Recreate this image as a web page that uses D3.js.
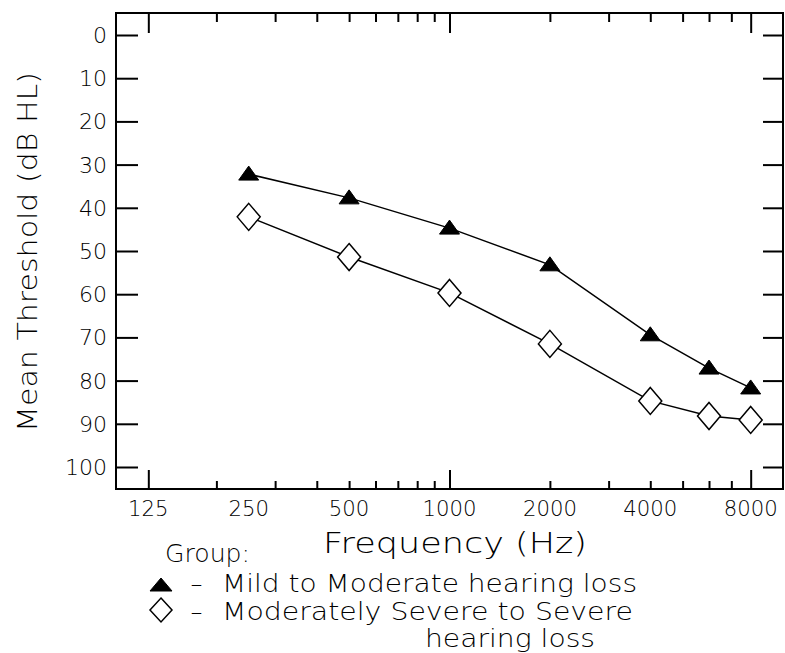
<!DOCTYPE html>
<html>
<head>
<meta charset="utf-8">
<script src="https://cdn.jsdelivr.net/npm/d3@7"></script>
<style>
  html, body { margin: 0; padding: 0; background: #fff; }
  svg { display: block; }
  text { font-family: "DejaVu Sans", "Liberation Sans", sans-serif; font-weight: 200; fill: #000; }
</style>
</head>
<body>
<script>
// ---- data ----
const frequencies = [250, 500, 1000, 2000, 4000, 6000, 8000];
const mildModerate = [32.2, 37.7, 44.7, 53.2, 69.4, 77.1, 81.7];
const modSevereSevere = [42.1, 51.4, 59.7, 71.5, 84.7, 88.2, 89.1];
const xTickLabels = [125, 250, 500, 1000, 2000, 4000, 8000];
const xMajorTicks = [125, 1000, 8000];
const xMinorTicks = [200, 300, 400, 500, 600, 700, 800, 900, 2000, 3000, 4000, 5000, 6000, 7000];
const yTickValues = [0, 10, 20, 30, 40, 50, 60, 70, 80, 90, 100];
const legendLabels = ["Mild to Moderate hearing loss", "Moderately Severe to Severe", "hearing loss"];

const W = 785, H = 653;
const pL = 116, pR = 783, pT = 13, pB = 489;

const svg = d3.select("body").append("svg").attr("width", W).attr("height", H);

const x = d3.scaleLog().domain([100, 10000]).range([pL, pR]);
const y = d3.scaleLinear().domain([0, 100]).range([35, 467]);

// frame
svg.append("rect").attr("x", pL).attr("y", pT)
  .attr("width", pR - pL).attr("height", pB - pT)
  .attr("fill", "none").attr("stroke", "#000").attr("stroke-width", 2);

function tickAxis(axis, tr) {
  const g = svg.append("g").attr("transform", tr).call(axis);
  g.select(".domain").remove();
  g.selectAll("text").remove();
  g.selectAll("line").attr("stroke", "#000").attr("stroke-width", 2);
  return g;
}
// y ticks (inward)
tickAxis(d3.axisLeft(y).tickValues(yTickValues).tickSize(-22), `translate(${pL},0)`);
tickAxis(d3.axisRight(y).tickValues(yTickValues).tickSize(-20), `translate(${pR},0)`);
// x ticks (inward)
tickAxis(d3.axisBottom(x).tickValues(xMajorTicks).tickSize(-19), `translate(0,${pB})`);
tickAxis(d3.axisBottom(x).tickValues(xMinorTicks).tickSize(-8), `translate(0,${pB})`);
tickAxis(d3.axisTop(x).tickValues(xMajorTicks).tickSize(-20), `translate(0,${pT})`);
tickAxis(d3.axisTop(x).tickValues(xMinorTicks).tickSize(-9), `translate(0,${pT})`);

// y tick labels
svg.append("g").selectAll("text").data(yTickValues).join("text")
  .attr("x", 107).attr("y", d => y(d) + 8)
  .attr("text-anchor", "end")
  .attr("font-size", 22)
  .attr("textLength", d => String(d).length * 14)
  .attr("lengthAdjust", "spacingAndGlyphs")
  .text(d => d);

// x tick labels
svg.append("g").selectAll("text").data(xTickLabels).join("text")
  .attr("x", d => x(d)).attr("y", 516)
  .attr("text-anchor", "middle")
  .attr("font-size", 22)
  .attr("textLength", d => String(d).length * 13.5)
  .attr("lengthAdjust", "spacingAndGlyphs")
  .text(d => d);

// axis titles
svg.append("text")
  .attr("transform", "translate(37,252) rotate(-90)")
  .attr("text-anchor", "middle")
  .attr("font-size", 27)
  .attr("textLength", 360)
  .attr("lengthAdjust", "spacingAndGlyphs")
  .text("Mean Threshold (dB HL)");

svg.append("text")
  .attr("x", 323).attr("y", 553)
  .attr("font-size", 28)
  .attr("textLength", 264)
  .attr("lengthAdjust", "spacingAndGlyphs")
  .text("Frequency (Hz)");

// series
const line = d3.line().x(d => x(d[0])).y(d => y(d[1]));
const mildPts = frequencies.map((f, i) => [f, mildModerate[i]]);
const sevPts = frequencies.map((f, i) => [f, modSevereSevere[i]]);

svg.append("path").datum(mildPts).attr("d", line)
  .attr("fill", "none").attr("stroke", "#000").attr("stroke-width", 1.5);
svg.append("path").datum(sevPts).attr("d", line)
  .attr("fill", "none").attr("stroke", "#000").attr("stroke-width", 1.5);

const triPath = "M0,-8 L10,6 L-10,6 Z";
const diaPath = "M0,-13.5 L11.5,0 L0,13.5 L-11.5,0 Z";

svg.append("g").selectAll("path").data(sevPts).join("path")
  .attr("transform", d => `translate(${x(d[0])},${y(d[1])})`)
  .attr("d", diaPath)
  .attr("fill", "#fff").attr("stroke", "#000").attr("stroke-width", 1.5);

svg.append("g").selectAll("path").data(mildPts).join("path")
  .attr("transform", d => `translate(${x(d[0])},${y(d[1])})`)
  .attr("d", triPath)
  .attr("fill", "#000").attr("stroke", "#000").attr("stroke-width", 1);

// legend
svg.append("text").attr("x", 165).attr("y", 562)
  .attr("font-size", 24).attr("textLength", 85).attr("lengthAdjust", "spacingAndGlyphs")
  .text("Group:");

svg.append("path").attr("transform", "translate(161,585)")
  .attr("d", "M0,-7 L11,6 L-11,6 Z").attr("fill", "#000").attr("stroke", "#000");
svg.append("path").attr("transform", "translate(161,610)")
  .attr("d", "M0,-12 L11,0 L0,12 L-11,0 Z").attr("fill", "#fff")
  .attr("stroke", "#000").attr("stroke-width", 1.5);

svg.append("text").attr("x", 190).attr("y", 592).attr("font-size", 24)
  .attr("textLength", 13).attr("lengthAdjust", "spacingAndGlyphs").text("-");
svg.append("text").attr("x", 190).attr("y", 620).attr("font-size", 24)
  .attr("textLength", 13).attr("lengthAdjust", "spacingAndGlyphs").text("-");

svg.append("text").attr("x", 222).attr("y", 592).attr("font-size", 25)
  .attr("textLength", 415).attr("lengthAdjust", "spacingAndGlyphs").text(legendLabels[0]);
svg.append("text").attr("x", 222).attr("y", 620).attr("font-size", 25)
  .attr("textLength", 411).attr("lengthAdjust", "spacingAndGlyphs").text(legendLabels[1]);
svg.append("text").attr("x", 425).attr("y", 647).attr("font-size", 25)
  .attr("textLength", 170).attr("lengthAdjust", "spacingAndGlyphs").text(legendLabels[2]);
</script>
</body>
</html>
